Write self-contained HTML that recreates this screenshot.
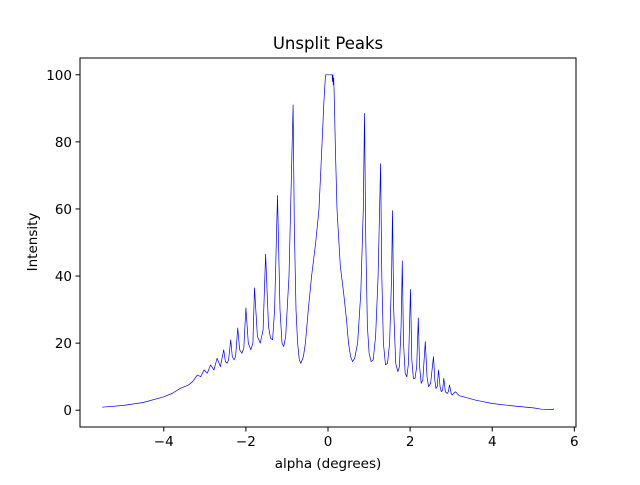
<!DOCTYPE html>
<html><head><meta charset="utf-8"><style>
body{margin:0;background:#fff;}
svg text{font-family:"DejaVu Sans","Liberation Sans",sans-serif;fill:#000;}
</style></head><body>
<svg id="chart" width="640" height="480">
<rect width="640" height="480" fill="#fff"/>
<text x="328" y="49" font-size="16.5" text-anchor="middle">Unsplit Peaks</text>
<g id="plot"></g>
<g id="xt"></g>
<g id="yt"></g>
<rect x="80" y="58" width="496" height="369" fill="none" stroke="#000" stroke-width="1"/>
<text x="328" y="468" font-size="13.5" text-anchor="middle">alpha (degrees)</text>
<text transform="translate(37,242) rotate(-90)" font-size="13.5" text-anchor="middle">Intensity</text>
</svg>
<script>
const alphaVals=[-5.5,-5,-4.5,-4,-3.8,-3.6,-3.5,-3.4,-3.3,-3.18,-3.1,-3.02,-2.94,-2.86,-2.78,-2.7,-2.62,-2.54,-2.5,-2.46,-2.42,-2.37,-2.33,-2.29,-2.25,-2.2,-2.15,-2.1,-2.05,-2.0,-1.94,-1.88,-1.83,-1.79,-1.72,-1.65,-1.58,-1.52,-1.45,-1.4,-1.35,-1.3,-1.23,-1.17,-1.12,-1.08,-1.03,-0.95,-0.85,-0.82,-0.78,-0.74,-0.7,-0.66,-0.6,-0.55,-0.48,-0.4,-0.3,-0.22,-0.15,-0.1,-0.06,0.1,0.11,0.12,0.13,0.14,0.15,0.18,0.22,0.3,0.38,0.45,0.5,0.55,0.6,0.65,0.72,0.8,0.86,0.89,0.92,0.96,1.0,1.05,1.1,1.16,1.22,1.28,1.31,1.35,1.4,1.45,1.5,1.55,1.57,1.6,1.65,1.7,1.74,1.78,1.81,1.84,1.88,1.92,1.96,2.01,2.04,2.08,2.12,2.16,2.2,2.23,2.27,2.31,2.37,2.41,2.45,2.5,2.57,2.6,2.63,2.66,2.69,2.73,2.76,2.79,2.82,2.86,2.9,2.93,2.96,3.0,3.03,3.06,3.1,3.2,3.3,3.6,4.0,4.5,5.0,5.2,5.48,5.5];
const intensityVals=[0.9,1.4,2.3,4,5,6.5,7,7.5,8.5,10.5,10,12,11,13.5,12,15.5,13,18,14.5,14,15,21,16,15,16,24.5,18,17,18.5,30.5,20,18,20,36.5,22,20,24,46.5,25,21.5,21,30,64,30,20,19,22,40,91,55,30,20,15,14,16,20,30,40,50,60,78,92,100,100,98,100,97,99,94,78,60,43,35,27,20,16,14.5,15.5,20,35,60,88.5,50,25,17,14.5,15,22,40,73.5,40,20,13.5,14,20,40,59.5,30,14,11.5,13,25,44.5,20,11,10,14,36,15,9.5,9.5,13,27.5,13,8,9,20.5,10,7,8,16,9,6.5,7,12,7,5.5,6,9.5,5.5,5,5.5,7.5,5,4.5,5,5.5,4.3,4,3,2,1.3,0.7,0.3,0.2,0.5];
const xTicks=[-4,-2,0,2,4,6];
const yTicks=[0,20,40,60,80,100];
const X0=80,X1=576,Y0=427,Y1=58,xmin=-6.04,xmax=6.04,ymin=-5,ymax=105;
const sx=v=>X0+(v-xmin)/(xmax-xmin)*(X1-X0);
const sy=v=>Y0-(v-ymin)/(ymax-ymin)*(Y0-Y1);
const NS='http://www.w3.org/2000/svg';
const plot=document.getElementById('plot');
const line=document.createElementNS(NS,'polyline');
line.setAttribute('points',alphaVals.map((a,i)=>sx(a).toFixed(1)+','+sy(intensityVals[i]).toFixed(1)).join(' '));
line.setAttribute('fill','none');line.setAttribute('stroke','#0000ff');line.setAttribute('stroke-width','0.7');line.setAttribute('stroke-linejoin','round');


plot.appendChild(line);
const xt=document.getElementById('xt');
xTicks.forEach(t=>{
 const l=document.createElementNS(NS,'line');
 l.setAttribute('x1',sx(t));l.setAttribute('x2',sx(t));l.setAttribute('y1',Y0);l.setAttribute('y2',Y0+4.5);l.setAttribute('stroke','#000');
 
 
 xt.appendChild(l);
 const tx=document.createElementNS(NS,'text');
 tx.setAttribute('x',sx(t));tx.setAttribute('y',Y0+19);tx.setAttribute('font-size','13.5');tx.setAttribute('text-anchor','middle');
 tx.textContent=(t<0?'\u2212':'')+Math.abs(t);
 
 
 xt.appendChild(tx);
});
const yt=document.getElementById('yt');
yTicks.forEach(t=>{
 const l=document.createElementNS(NS,'line');
 l.setAttribute('x1',X0-4.5);l.setAttribute('x2',X0);l.setAttribute('y1',sy(t));l.setAttribute('y2',sy(t));l.setAttribute('stroke','#000');
 
 
 yt.appendChild(l);
 const tx=document.createElementNS(NS,'text');
 tx.setAttribute('x',X0-8);tx.setAttribute('y',sy(t)+5);tx.setAttribute('font-size','13.5');tx.setAttribute('text-anchor','end');
 tx.textContent=t;
 
 
 yt.appendChild(tx);
});
</script>
</body></html>
